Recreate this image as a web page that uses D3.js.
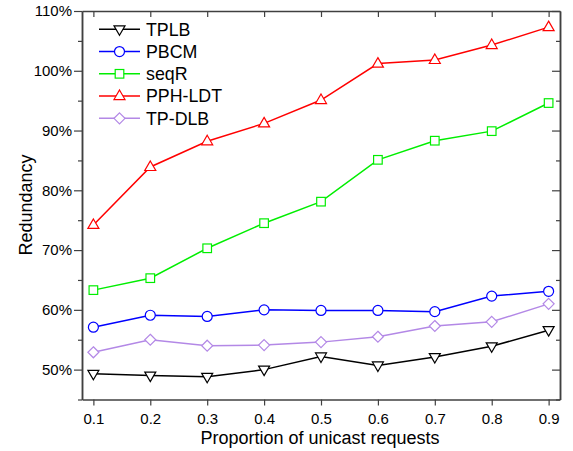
<!DOCTYPE html>
<html>
<head>
<meta charset="utf-8">
<script src="https://cdn.jsdelivr.net/npm/d3@7"></script>
<style>
  body { margin: 0; background: #fff; }
  text { font-family: "Liberation Sans", Arial, sans-serif; }
</style>
</head>
<body>
<script>
// data
const proportions = [0.1, 0.2, 0.3, 0.4, 0.5, 0.6, 0.7, 0.8, 0.9];
const tplb   = [49.3, 49.0, 48.8, 50.0, 52.2, 50.7, 52.1, 53.9, 56.6];
const pbcm   = [57.1, 59.1, 58.9, 60.0, 59.9, 59.9, 59.7, 62.3, 63.1];
const seqR   = [63.3, 65.3, 70.3, 74.5, 78.1, 85.1, 88.3, 89.9, 94.6];
const pphLdt = [74.2, 83.9, 88.2, 91.2, 95.1, 101.2, 101.8, 104.3, 107.3];
const tpDlb  = [52.9, 55.0, 54.0, 54.1, 54.6, 55.5, 57.3, 58.0, 61.0];
const yTicks = [50, 60, 70, 80, 90, 100, 110];
const yMinor = [45, 55, 65, 75, 85, 95, 105];

const series = [
    {name: 'TPLB',    values: tplb,   color: '#000000', symbol: 'down'},
    {name: 'PBCM',    values: pbcm,   color: '#0000ff', symbol: 'circle'},
    {name: 'seqR',    values: seqR,   color: '#00ee00', symbol: 'square'},
    {name: 'PPH-LDT', values: pphLdt, color: '#ff0000', symbol: 'up'},
    {name: 'TP-DLB',  values: tpDlb,  color: '#b388e6', symbol: 'diamond'},
];

const W = 573, H = 451;
const plotLeft = 82, plotRight = 560, plotTop = 11, plotBottom = 399.5;

const svg = d3.select('body').append('svg')
    .attr('width', W)
    .attr('height', H);

const x = d3.scaleLinear().domain([0.08, 0.92]).range([plotLeft, plotRight]);
const y = d3.scaleLinear().domain([45, 110]).range([plotBottom, plotTop]);

// axes
const axisColor = '#404040';
function styleAxis(g) {
    g.select('.domain').attr('stroke', axisColor).attr('stroke-width', 1.5);
    g.selectAll('.tick line').attr('stroke', axisColor).attr('stroke-width', 1.2);
    g.selectAll('.tick text').attr('fill', '#000')
        .style('font-size', '15px')
        .style('font-family', '"Liberation Sans", Arial, sans-serif');
}

svg.append('g')
    .attr('transform', `translate(0,${plotBottom})`)
    .call(d3.axisBottom(x).tickValues(proportions).tickSize(6).tickSizeOuter(0)
        .tickPadding(8).tickFormat(d3.format('.1f')))
    .call(styleAxis);
svg.append('g')
    .attr('transform', `translate(0,${plotTop})`)
    .call(d3.axisTop(x).tickValues(proportions).tickSize(-6).tickSizeOuter(0).tickFormat(''))
    .call(styleAxis);

svg.append('g')
    .attr('transform', `translate(${plotLeft},0)`)
    .call(d3.axisLeft(y).tickValues(yTicks).tickSize(8).tickSizeOuter(0)
        .tickPadding(2).tickFormat(d => d + '%'))
    .call(styleAxis);
svg.append('g')
    .attr('transform', `translate(${plotLeft},0)`)
    .call(d3.axisLeft(y).tickValues(yMinor).tickSize(4).tickSizeOuter(0).tickFormat(''))
    .call(styleAxis);
svg.append('g')
    .attr('transform', `translate(${plotRight},0)`)
    .call(d3.axisRight(y).tickValues(yTicks).tickSize(-8).tickSizeOuter(0).tickFormat(''))
    .call(styleAxis);
svg.append('g')
    .attr('transform', `translate(${plotRight},0)`)
    .call(d3.axisRight(y).tickValues(yMinor).tickSize(-4).tickSizeOuter(0).tickFormat(''))
    .call(styleAxis);

// axis titles
svg.append('text')
    .attr('x', 320).attr('y', 444)
    .attr('text-anchor', 'middle')
    .style('font-size', '18px')
    .text('Proportion of unicast requests');
svg.append('text')
    .attr('transform', 'translate(32,205) rotate(-90)')
    .attr('text-anchor', 'middle')
    .style('font-size', '18px')
    .text('Redundancy');

// markers
function drawMarker(g, symbol, color) {
    if (symbol === 'circle') {
        g.append('circle').attr('r', 5);
    } else if (symbol === 'square') {
        g.append('rect').attr('x', -4.3).attr('y', -4.3).attr('width', 8.6).attr('height', 8.6);
    } else if (symbol === 'diamond') {
        g.append('path').attr('d', 'M0,-5.5L5.5,0L0,5.5L-5.5,0Z');
    } else if (symbol === 'up') {
        g.append('path').attr('d', 'M0,-6L5.5,3.5L-5.5,3.5Z');
    } else if (symbol === 'down') {
        g.append('path').attr('d', 'M0,6L5.5,-3.5L-5.5,-3.5Z');
    }
    g.selectAll('*').attr('fill', '#fff').attr('stroke', color).attr('stroke-width', 1.2);
}

const line = d3.line()
    .x(d => x(d[0]))
    .y(d => y(d[1]));

series.forEach(s => {
    const pts = proportions.map((p, i) => [p, s.values[i]]);
    svg.append('path')
        .datum(pts)
        .attr('fill', 'none')
        .attr('stroke', s.color)
        .attr('stroke-width', 1.5)
        .attr('d', line);
    svg.selectAll(null)
        .data(pts)
        .enter().append('g')
        .attr('transform', d => `translate(${x(d[0])},${y(d[1])})`)
        .each(function() { drawMarker(d3.select(this), s.symbol, s.color); });
});

// legend
const legend = svg.append('g');
series.forEach((s, i) => {
    const ly = 29.3 + i * 22.25;
    legend.append('line')
        .attr('x1', 99).attr('x2', 140)
        .attr('y1', ly).attr('y2', ly)
        .attr('stroke', s.color).attr('stroke-width', 1.5);
    drawMarker(legend.append('g').attr('transform', `translate(119.5,${ly})`), s.symbol, s.color);
    legend.append('text')
        .attr('x', 146).attr('y', ly)
        .attr('dy', '0.36em')
        .style('font-size', '17.8px')
        .text(s.name);
});
</script>
</body>
</html>
